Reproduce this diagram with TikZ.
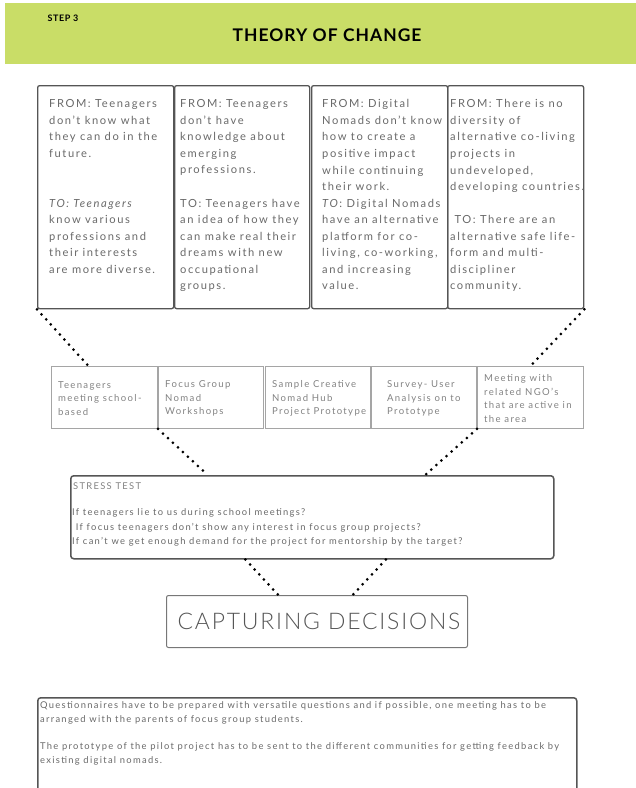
\documentclass[tikz,border=0pt]{standalone}
\usepackage{fontspec}
\setmainfont{Lato}[LetterSpace=14]
\newfontfamily\titlefont{Lato}[LetterSpace=6]
\newfontfamily\lightfont{Lato}[UprightFont={* Light},LetterSpace=8]
\usetikzlibrary{calc}
\definecolor{hdr}{RGB}{201,221,103}
\definecolor{txtgray}{RGB}{105,105,105}
\definecolor{midgray}{RGB}{130,130,130}
\definecolor{boxdark}{RGB}{85,85,85}
\definecolor{boxlight}{RGB}{165,165,165}
\tikzset{
  topbox/.style={draw=boxdark, line width=1.3bp, rounded corners=2bp, minimum height=223bp, anchor=north west, inner sep=0pt},
  midbox/.style={draw=boxlight, line width=0.9bp, minimum height=62bp, anchor=north west, inner sep=0pt},
  ttext/.style={anchor=north west, inner sep=0pt, align=left, text=txtgray, font=\fontsize{11.2}{16.6}\selectfont},
  mtext/.style={anchor=west, inner sep=0pt, align=left, text=midgray, font=\fontsize{9.6}{13.7}\selectfont},
  stext/.style={anchor=north west, inner sep=0pt, align=left, text=txtgray, font=\fontsize{9.4}{14.5}\selectfont},
  btext/.style={anchor=north west, inner sep=0pt, align=left, text=txtgray, font=\fontsize{9.4}{14}\selectfont},
  dotline/.style={line width=3bp, dash pattern=on 0pt off 6.8bp, line cap=round, black}
}
\begin{document}
\begin{tikzpicture}[x=1bp,y=-1bp]
\useasboundingbox (0,0) rectangle (636,788);
\clip (0,0) rectangle (636,788);
% header
\fill[hdr] (5,3) rectangle (636,64);
\node[font=\titlefont\bfseries\fontsize{9}{10}\selectfont, inner sep=0pt] (step) at (63,18) {STEP 3};
\node[font=\titlefont\bfseries\fontsize{17.5}{20}\selectfont, inner sep=0pt] (title) at (327,35) {THEORY OF CHANGE};
% top boxes
\node[topbox, minimum width=136bp] (t1) at (37,85) {};
\node[topbox, minimum width=135bp] (t2) at (174,85) {};
\node[topbox, minimum width=136bp] (t3) at (311,85) {};
\node[topbox, minimum width=136bp] (t4) at (447,85) {};
\node[ttext] (t1x) at (49,99.5) {FROM: Teenagers\\don't know what\\they can do in the\\future.\\[33.2bp]\textit{TO: Teenagers}\\know various\\professions and\\their interests\\are more diverse.};
\node[ttext] (t2x) at (180,99.5) {FROM: Teenagers\\don't have\\knowledge about\\emerging\\professions.\\[16.6bp]TO: Teenagers have\\an idea of how they\\can make real their\\dreams with new\\occupational\\groups.};
\node[ttext] (t3x) at (322,99.5) {FROM: Digital\\Nomads don't know\\how to create a\\positive impact\\while continuing\\their work.\\\textit{TO}: Digital Nomads\\have an alternative\\platform for co-\\living, co-working,\\and increasing\\value.};
\node[ttext] (t4x) at (450,99.5) {FROM: There is no\\diversity of\\alternative co-living\\projects in\\undeveloped,\\developing countries.\\[16.6bp]\ TO: There are an\\alternative safe life-\\form and multi-\\discipliner\\community.};
% middle boxes
\node[midbox, minimum width=106bp] (m1) at (51,366) {};
\node[midbox, minimum width=105bp] (m2) at (158,366) {};
\node[midbox, minimum width=105bp] (m3) at (265,366) {};
\node[midbox, minimum width=105bp] (m4) at (371,366) {};
\node[midbox, minimum width=106bp] (m5) at (477,366) {};
\node[mtext] (m1x) at (58,398.5) {Teenagers\\meeting school-\\based};
\node[mtext] (m2x) at (165,398.5) {Focus Group\\Nomad\\Workshops};
\node[mtext] (m3x) at (272,398.5) {Sample Creative\\Nomad Hub\\Project Prototype};
\node[mtext] (m4x) at (387,398.5) {Survey- User\\Analysis on to\\Prototype};
\node[mtext] (m5x) at (484,398.5) {Meeting with\\related NGO's\\that are active in\\the area};
% stress test
\node[draw=boxdark, line width=1.5bp, rounded corners=3bp, minimum width=483bp, minimum height=83bp, anchor=north west, inner sep=0pt] (st) at (70,475) {};
\node[stext, text=midgray] (stt) at (73,482.5) {STRESS TEST};
\node[stext] (stx) at (72,508.5) {If teenagers lie to us during school meetings?\\\ If focus teenagers don't show any interest in focus group projects?\\If can't we get enough demand for the project for mentorship by the target?};
% capturing decisions
\node[draw=boxdark!80, line width=1bp, rounded corners=2bp, minimum width=301bp, minimum height=52bp, anchor=north west, inner sep=0pt] (cd) at (166,595) {};
\node[font=\lightfont\fontsize{23}{26}\selectfont, text=boxdark, inner sep=0pt] (cdx) at ($(cd.center)+(2,0)$) {CAPTURING DECISIONS};
% bottom box
\node[draw=boxdark, line width=1.5bp, rounded corners=3bp, minimum width=539bp, minimum height=120bp, anchor=north west, inner sep=0pt] (bt) at (37,697) {};
\node[btext] (btx) at (40,701.5) {Questionnaires have to be prepared with versatile questions and if possible, one meeting has to be\\arranged with the parents of focus group students.\\[13bp]The prototype of the pilot project has to be sent to the different communities for getting feedback by\\existing digital nomads.};
% connectors
\draw[dotline] (t1.south west) -- ($(m1.north west)!0.35!(m1.north east)$);
\draw[dotline] (t4.south east) -- (m5.north);
\draw[dotline] (m2.south west) -- ($(st.north west)!0.284!(st.north east)$);
\draw[dotline] (m5.south west) -- ($(st.north west)!0.733!(st.north east)$);
\draw[dotline] ($(st.south west)!0.362!(st.south east)$) -- ($(cd.north west)!0.372!(cd.north east)$);
\draw[dotline] ($(st.south west)!0.652!(st.south east)$) -- ($(cd.north west)!0.618!(cd.north east)$);
\end{tikzpicture}
\end{document}
